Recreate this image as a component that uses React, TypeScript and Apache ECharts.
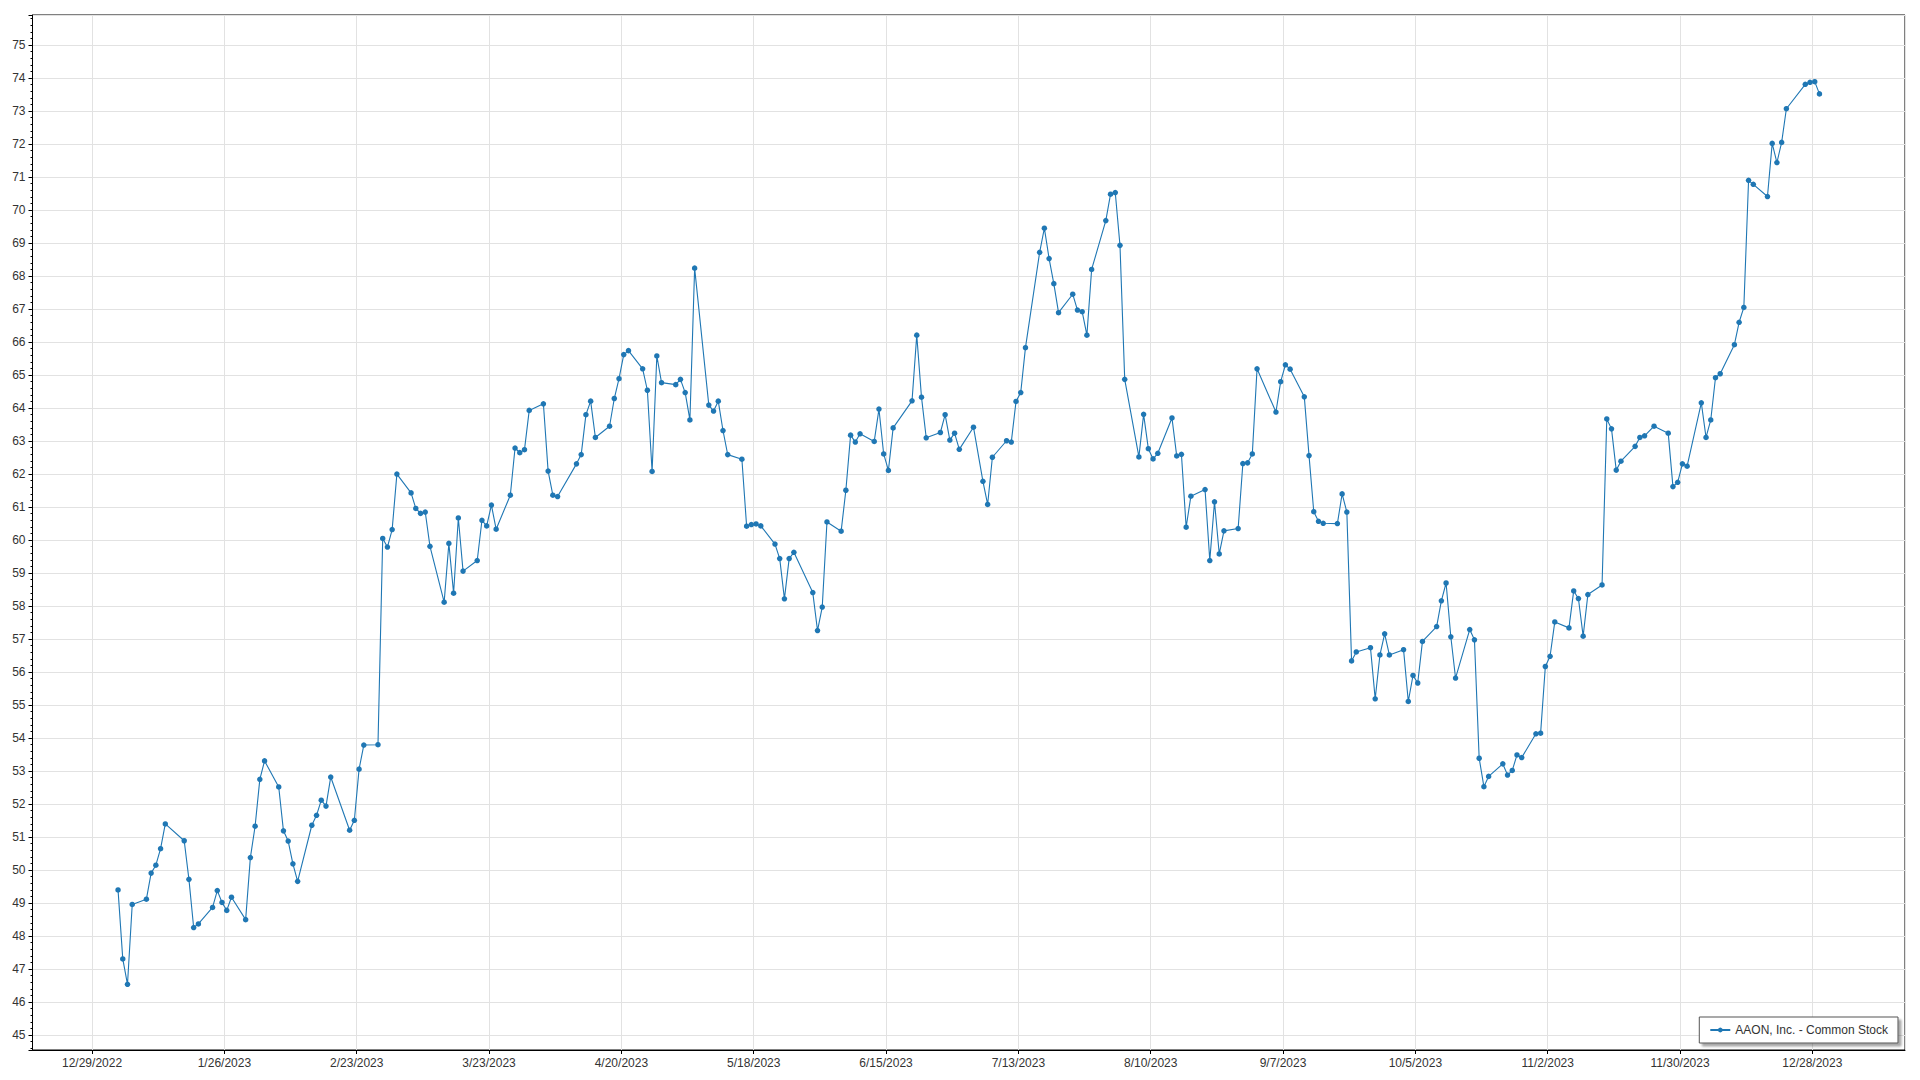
import React, { useEffect, useRef } from "react";
import * as echarts from "echarts";

const SERIES_NAME = "AAON, Inc. - Common Stock";
const YEAR = 2023;

// trading days per month (2023)
const janDays = [3, 4, 5, 6, 9, 10, 11, 12, 13, 17, 18, 19, 20, 23, 24, 25, 26, 27, 30, 31];
const febDays = [1, 2, 3, 6, 7, 8, 9, 10, 13, 14, 15, 16, 17, 21, 22, 23, 24, 27, 28];
const marDays = [1, 2, 3, 6, 7, 8, 9, 10, 13, 14, 15, 16, 17, 20, 21, 22, 23, 24, 27, 28, 29, 30, 31];
const aprDays = [3, 4, 5, 6, 10, 11, 12, 13, 14, 17, 18, 19, 20, 21, 24, 25, 26, 27, 28];
const mayDays = [1, 2, 3, 4, 5, 8, 9, 10, 11, 12, 15, 16, 17, 18, 19, 22, 23, 24, 25, 26, 30, 31];
const junDays = [1, 2, 5, 6, 7, 8, 9, 12, 13, 14, 15, 16, 20, 21, 22, 23, 26, 27, 28, 29, 30];
const julDays = [3, 5, 6, 7, 10, 11, 12, 13, 14, 17, 18, 19, 20, 21, 24, 25, 26, 27, 28, 31];
const augDays = [1, 2, 3, 4, 7, 8, 9, 10, 11, 14, 15, 16, 17, 18, 21, 22, 23, 24, 25, 28, 29, 30, 31];
const sepDays = [1, 5, 6, 7, 8, 11, 12, 13, 14, 15, 18, 19, 20, 21, 22, 25, 26, 27, 28, 29];
const octDays = [2, 3, 4, 5, 6, 9, 10, 11, 12, 13, 16, 17, 18, 19, 20, 23, 24, 25, 26, 27, 30, 31];
const novDays = [1, 2, 3, 6, 7, 8, 9, 10, 13, 14, 15, 16, 17, 20, 21, 22, 24, 27, 28, 29, 30];
const decDays = [1, 4, 5, 6, 7, 8, 11, 12, 13, 14, 15, 18, 19, 20, 21, 22, 26, 27, 28, 29];

// closing prices per month
const janClose = [49.4, 47.31, 46.54, 48.96, 49.12, 49.91, 50.15, 50.65, 51.4, 50.89, 49.72, 48.26, 48.37, 48.87, 49.38, 49.02, 48.78, 49.18, 48.5, 50.38];
const febClose = [51.33, 52.75, 53.31, 52.52, 51.19, 50.88, 50.19, 49.66, 51.36, 51.66, 52.12, 51.94, 52.82, 51.21, 51.51, 53.06, 53.79, 53.8, 60.05];
const marClose = [59.79, 60.32, 62.0, 61.43, 60.96, 60.81, 60.85, 59.81, 58.12, 59.9, 58.39, 60.67, 59.06, 59.38, 60.6, 60.43, 61.06, 60.33, 61.36, 62.79, 62.65, 62.74, 63.93];
const aprClose = [64.13, 62.09, 61.36, 61.32, 62.31, 62.59, 63.8, 64.21, 63.11, 63.45, 64.29, 64.89, 65.62, 65.74, 65.19, 64.54, 62.08, 65.58, 64.77];
const mayClose = [64.71, 64.87, 64.47, 63.64, 68.24, 64.09, 63.91, 64.21, 63.32, 62.59, 62.45, 60.42, 60.47, 60.49, 60.43, 59.88, 59.44, 58.22, 59.44, 59.63, 58.41, 57.26];
const junClose = [57.97, 60.55, 60.27, 61.51, 63.18, 62.97, 63.22, 62.99, 63.97, 62.61, 62.11, 63.4, 64.22, 66.21, 64.33, 63.1, 63.26, 63.8, 63.03, 63.24, 62.75];
const julClose = [63.42, 61.78, 61.08, 62.51, 63.01, 62.97, 64.2, 64.47, 65.83, 68.72, 69.45, 68.53, 67.77, 66.89, 67.45, 66.97, 66.92, 66.21, 68.2, 69.68];
const augClose = [70.48, 70.53, 68.93, 64.87, 62.52, 63.81, 62.77, 62.46, 62.63, 63.7, 62.55, 62.6, 60.39, 61.33, 61.53, 59.38, 61.16, 59.58, 60.28, 60.35, 62.32, 62.34, 62.61];
const sepClose = [65.19, 63.88, 64.8, 65.31, 65.18, 64.34, 62.56, 60.86, 60.57, 60.51, 60.5, 61.4, 60.85, 56.34, 56.61, 56.74, 55.19, 56.52, 57.16, 56.52];
const octClose = [56.68, 55.11, 55.9, 55.67, 56.93, 57.38, 58.16, 58.7, 57.07, 55.82, 57.29, 56.98, 53.39, 52.53, 52.84, 53.22, 52.88, 53.02, 53.49, 53.41, 54.13, 54.15];
const novClose = [56.17, 56.48, 57.52, 57.34, 58.46, 58.23, 57.09, 58.35, 58.64, 63.67, 63.37, 62.12, 62.39, 62.84, 63.11, 63.16, 63.45, 63.24, 61.62, 61.75, 62.31];
const decClose = [62.24, 64.16, 63.11, 63.64, 64.92, 65.04, 65.92, 66.6, 67.05, 70.9, 70.78, 70.41, 72.02, 71.44, 72.05, 73.07, 73.81, 73.87, 73.89, 73.52];

const monthDays = [janDays, febDays, marDays, aprDays, mayDays, junDays, julDays, augDays, sepDays, octDays, novDays, decDays];
const monthCloses = [janClose, febClose, marClose, aprClose, mayClose, junClose, julClose, augClose, sepClose, octClose, novClose, decClose];

// x axis: days counted from the first tick date (12/29/2022), ticks every 28 days
const AXIS_ORIGIN = Date.UTC(2022, 11, 29);
const DAY_MS = 86400000;
const TICK_DAYS = 28;
const X_MIN = -12.6;
const X_MAX = 383.6;
const Y_MIN = 44.55;
const Y_MAX = 75.91;

function buildData(): [number, number][] {
  const out: [number, number][] = [];
  monthDays.forEach((days, m) => {
    days.forEach((d, i) => {
      const x = (Date.UTC(YEAR, m, d) - AXIS_ORIGIN) / DAY_MS + 0.5;
      out.push([x, monthCloses[m][i]]);
    });
  });
  return out;
}

function fmtDate(v: number): string {
  const d = new Date(AXIS_ORIGIN + Math.round(v) * DAY_MS);
  return `${d.getUTCMonth() + 1}/${d.getUTCDate()}/${d.getUTCFullYear()}`;
}

const FONT = "'Liberation Sans', Arial, sans-serif";
const LINE_COLOR = "#1f77b4";

export default function App() {
  const ref = useRef<HTMLDivElement>(null);
  useEffect(() => {
    if (!ref.current) return;
    const chart = echarts.init(ref.current, undefined, { renderer: "svg" });
    chart.setOption({
      animation: false,
      backgroundColor: "#ffffff",
      textStyle: { fontFamily: FONT },
      grid: {
        left: 32.5,
        right: 15,
        top: 15,
        bottom: 30,
        show: true,
        borderColor: "#000000",
        borderWidth: 1,
        containLabel: false,
      },
      legend: {
        data: [SERIES_NAME],
        right: 22,
        bottom: 37,
        orient: "horizontal",
        backgroundColor: "#ffffff",
        borderColor: "#555555",
        borderWidth: 1,
        borderRadius: 0,
        padding: [7, 10, 7, 10],
        itemWidth: 20,
        itemHeight: 6,
        itemGap: 5,
        shadowColor: "rgba(0,0,0,0.35)",
        shadowBlur: 2,
        shadowOffsetX: 3,
        shadowOffsetY: 3,
        textStyle: { fontFamily: FONT, fontSize: 12, color: "#333333" },
      },
      xAxis: {
        type: "value",
        min: X_MIN,
        max: X_MAX,
        splitNumber: 14,
        minInterval: TICK_DAYS,
        maxInterval: TICK_DAYS,
        axisLine: { show: true, onZero: false, lineStyle: { color: "#000000", width: 1 } },
        axisTick: { show: true, length: 4, lineStyle: { color: "#000000" } },
        axisLabel: {
          showMinLabel: false,
          showMaxLabel: false,
          formatter: fmtDate,
          fontFamily: FONT,
          fontSize: 12,
          color: "#333333",
          margin: 7,
        },
        splitLine: { show: true, lineStyle: { color: "#e2e2e2", width: 1 } },
      },
      yAxis: {
        type: "value",
        min: Y_MIN,
        max: Y_MAX,
        splitNumber: 30,
        minInterval: 1,
        maxInterval: 1,
        axisLine: { show: true, onZero: false, lineStyle: { color: "#000000", width: 1 } },
        axisTick: { show: true, length: 4, lineStyle: { color: "#000000" } },
        minorTick: { show: true, splitNumber: 5, length: 2, lineStyle: { color: "#000000" } },
        axisLabel: {
          showMinLabel: false,
          showMaxLabel: false,
          fontFamily: FONT,
          fontSize: 12,
          color: "#333333",
          margin: 7,
        },
        splitLine: { show: true, lineStyle: { color: "#e2e2e2", width: 1 } },
      },
      series: [
        {
          name: SERIES_NAME,
          type: "line",
          data: buildData(),
          symbol: "circle",
          symbolSize: 5.5,
          showSymbol: true,
          lineStyle: { color: LINE_COLOR, width: 1.1 },
          itemStyle: { color: LINE_COLOR },
          emphasis: { disabled: true },
        },
      ],
    });
    return () => chart.dispose();
  }, []);
  return (
    <div
      ref={ref}
      style={{ position: "absolute", left: 0, top: 0, width: 1920, height: 1080, background: "#fff" }}
    />
  );
}
